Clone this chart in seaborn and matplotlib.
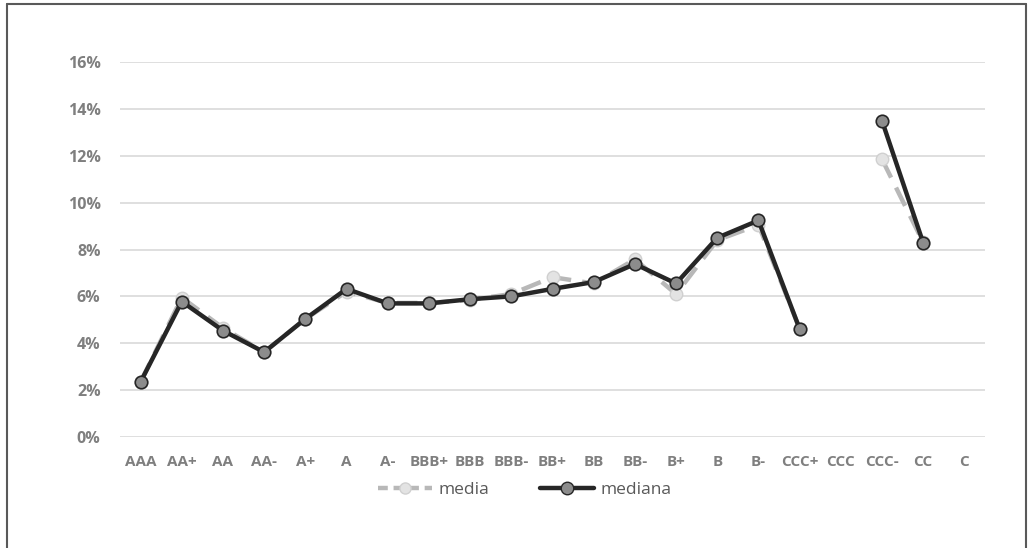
import numpy as np
import pandas as pd
import matplotlib
matplotlib.use("Agg")
import matplotlib.pyplot as plt
from matplotlib.lines import Line2D
import seaborn as sns

ratings = ["AAA", "AA+", "AA", "AA-", "A+", "A", "A-", "BBB+", "BBB", "BBB-",
           "BB+", "BB", "BB-", "B+", "B", "B-", "CCC+", "CCC", "CCC-", "CC", "C"]
media = [2.35, 5.95, 4.65, 3.62, 5.04, 6.20, 5.72, 5.72, 5.85, 6.10,
         6.82, 6.55, 7.58, 6.10, 8.40, 9.05, 4.62, np.nan, 11.85, 8.30, np.nan]
mediana = [2.35, 5.78, 4.54, 3.62, 5.04, 6.32, 5.70, 5.70, 5.88, 6.00,
           6.32, 6.61, 7.38, 6.55, 8.50, 9.24, 4.61, np.nan, 13.49, 8.28, np.nan]
yticks = [0, 2, 4, 6, 8, 10, 12, 14, 16]


def segmented(values):
    """Long table with a segment id so gaps (NaN) break the line."""
    pos = np.arange(len(ratings))
    vals = np.asarray(values, dtype=float)
    seg = np.cumsum(np.isnan(vals))
    df = pd.DataFrame({"pos": pos, "val": vals, "seg": seg})
    return df.dropna()


sns.set_theme(style="white")
plt.rcParams["font.family"] = ["Open Sans", "DejaVu Sans"]

fig = plt.figure(figsize=(10.28, 5.48), dpi=100)
ax = fig.add_axes([120 / 1028, 1 - 437 / 548, 865 / 1028, 375 / 548])

ax.set_ylim(0, 16)
ax.set_xlim(-0.5, len(ratings) - 0.5)
for t in yticks:
    ax.axhline(t, color="#d9d9d9", lw=1.2, zorder=0)

sns.lineplot(data=segmented(media), x="pos", y="val", units="seg", estimator=None,
             ax=ax, color="#b8b8b8", lw=3.2, linestyle=(0, (4.6, 2.5)),
             marker="o", markersize=9, markerfacecolor="#e3e3e3",
             markeredgecolor="#d0d0d0", markeredgewidth=1.0, zorder=3, clip_on=False)
sns.lineplot(data=segmented(mediana), x="pos", y="val", units="seg", estimator=None,
             ax=ax, color="#262626", lw=3.2, marker="o", markersize=9,
             markerfacecolor="#8c8c8c", markeredgecolor="#262626",
             markeredgewidth=1.2, zorder=4, clip_on=False)

ax.set_xticks(np.arange(len(ratings)))
ax.set_xticklabels(ratings)
ax.set_yticks(yticks)
ax.set_yticklabels([f"{t}%" for t in yticks])
ax.tick_params(axis="both", length=0, labelcolor="#7f7f7f")
ax.tick_params(axis="y", pad=14, labelsize=11.5)
ax.tick_params(axis="x", pad=13, labelsize=11)
for lab in ax.get_xticklabels() + ax.get_yticklabels():
    lab.set_fontweight("bold")
ax.set_xlabel("")
ax.set_ylabel("")
for s in ax.spines.values():
    s.set_visible(False)
ax.legend_ = None

handles = [
    Line2D([], [], color="#b8b8b8", lw=3.2, linestyle=(0, (2.2, 1.3)), marker="o",
           markersize=8, markerfacecolor="#e3e3e3", markeredgecolor="#d0d0d0"),
    Line2D([], [], color="#262626", lw=3.2, marker="o", markersize=9,
           markerfacecolor="#8c8c8c", markeredgecolor="#262626"),
]
leg = fig.legend(handles, ["media", "mediana"], loc="center",
                 bbox_to_anchor=(525 / 1028, 1 - 490 / 548), ncol=2, frameon=False,
                 fontsize=12.5, handlelength=3.1, handletextpad=0.4, columnspacing=2.9)
for txt in leg.get_texts():
    txt.set_color("#595959")

# outer chart border
border_kw = dict(color="#595959", lw=1.5, transform=fig.transFigure)
fig.add_artist(Line2D([7 / 1028, 7 / 1028], [0, 1 - 4 / 548], **border_kw))
fig.add_artist(Line2D([7 / 1028, 1026 / 1028], [1 - 4 / 548, 1 - 4 / 548], **border_kw))
fig.add_artist(Line2D([1026 / 1028, 1026 / 1028], [0, 1 - 4 / 548], **border_kw))

fig.savefig("out.png", dpi=100)
